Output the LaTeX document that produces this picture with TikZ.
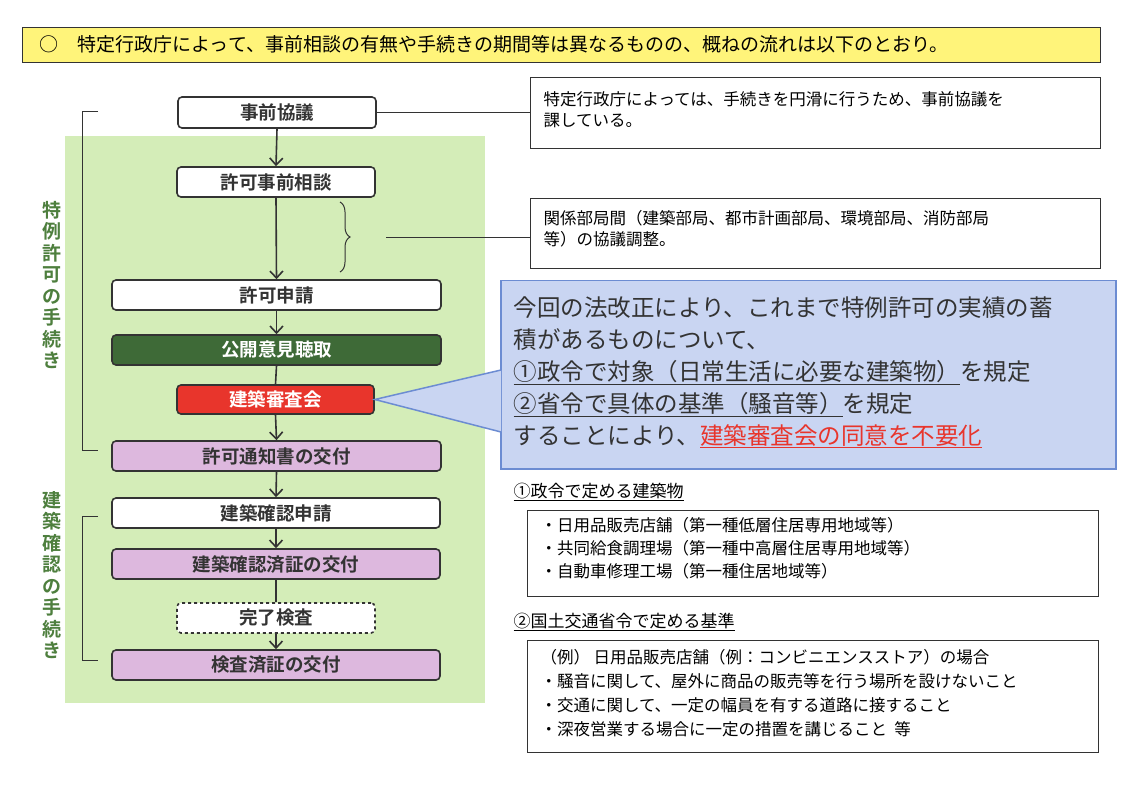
\documentclass[tikz,border=0pt]{standalone}
\usepackage{fontspec}
\setmainfont{Noto Sans CJK JP}
\newfontfamily\jpb{Noto Sans CJK JP Bold}
\usetikzlibrary{arrows.meta,decorations.pathreplacing}
\definecolor{yel}{HTML}{FFF47A}
\definecolor{bggreen}{HTML}{D4EDB8}
\definecolor{dkgreen}{HTML}{3E6A37}
\definecolor{lblgreen}{HTML}{4E7F3E}
\definecolor{redbox}{HTML}{E8352C}
\definecolor{pinkbox}{HTML}{DDB8DE}
\definecolor{callfill}{HTML}{C9D5F2}
\definecolor{callline}{HTML}{6C8CD2}
\definecolor{gry}{HTML}{333333}
\tikzset{
 flow/.style={draw=gry,line width=1.6pt,rounded corners=4pt,font=\jpb\fontsize{18.5}{18.5}\selectfont,text=gry,inner sep=0pt},
 note/.style={draw=gry,line width=0.7pt,inner sep=0pt},
 arr/.style={draw=gry,line width=1.6pt,-{Straight Barb[length=7pt,width=13pt]}},
 lbl/.style={font=\jpb\fontsize{19}{21.5}\selectfont,text=lblgreen,align=center},
 ntxt/.style={font=\fontsize{16.5}{21}\selectfont,align=left,anchor=north west}
}
\begin{document}
\begin{tikzpicture}[x=1pt,y=-1pt]
\useasboundingbox (0,0) rectangle (1148,786);
\fill[white] (0,0) rectangle (1148,786);
% header
\node[draw=gry,line width=0.8pt,fill=yel,minimum width=1078pt,minimum height=35pt,anchor=north west,inner sep=0pt] (hdr) at (22,27) {};
\node[anchor=west,font=\fontsize{19}{19}\selectfont] (hdrt) at (36,44.5) {○\quad 特定行政庁によって、事前相談の有無や手続きの期間等は異なるものの、概ねの流れは以下のとおり。};
% green background
\fill[bggreen] (65,136) rectangle (485,703);
% flow boxes
\node[flow,fill=white,minimum width=198pt,minimum height=31pt] (a) at (277,112.5) {事前協議};
\node[flow,fill=white,minimum width=198pt,minimum height=30pt] (b) at (276,182) {許可事前相談};
\node[flow,fill=white,minimum width=329pt,minimum height=30pt] (c) at (276.5,295) {許可申請};
\node[flow,fill=dkgreen,text=white,minimum width=329pt,minimum height=30pt] (d) at (276.5,350) {公開意見聴取};
\node[flow,fill=redbox,text=white,minimum width=197pt,minimum height=29pt] (e) at (275.5,399.5) {建築審査会};
\node[flow,fill=pinkbox,minimum width=329pt,minimum height=30pt] (f) at (276.5,456) {許可通知書の交付};
\node[flow,fill=white,minimum width=328pt,minimum height=30pt] (g) at (276,513) {建築確認申請};
\node[flow,fill=pinkbox,minimum width=328pt,minimum height=30pt] (h) at (276,564) {建築確認済証の交付};
\node[flow,fill=white,dashed,minimum width=198pt,minimum height=30pt] (i) at (276,618) {完了検査};
\node[flow,fill=pinkbox,minimum width=328pt,minimum height=30pt] (j) at (276,665) {検査済証の交付};
% arrows
\draw[arr] (a.south) -- (b.north);
\draw[arr] (b.south) -- (c.north);
\draw[arr] (c.south) -- (d.north);
\draw[gry,line width=1.6pt] (d.south) -- (e.north);
\draw[arr] (e.south) -- (f.north);
\draw[arr] (f.south) -- (g.north);
\draw[arr] (g.south) -- (h.north);
\draw[gry,line width=1.6pt] (h.south) -- (i.north);
\draw[arr] (i.south) -- (j.north);
% brackets
\draw[gry,line width=1pt] (98,112) -- (82,112) -- (82,450) -- (98,450);
\draw[gry,line width=1pt] (98,516) -- (82,516) -- (82,660) -- (98,660);
\node[lbl] (l1) at (52,285) {特\\例\\許\\可\\の\\手\\続\\き};
\node[lbl] (l2) at (52,575) {建\\築\\確\\認\\の\\手\\続\\き};
% right notes
\node[note,minimum width=570pt,minimum height=71pt,anchor=north west] (n1) at (530,77) {};
\node[ntxt] (n1t) at (540,88) {特定行政庁によっては、手続きを円滑に行うため、事前協議を\\課している。};
\draw[gry,line width=0.7pt] (a.east) -- (n1.west |- a.east);
\node[note,minimum width=570pt,minimum height=70pt,anchor=north west] (n2) at (530,198) {};
\node[ntxt] (n2t) at (540,207) {関係部局間（建築部局、都市計画部局、環境部局、消防部局\\等）の協議調整。};
\draw[gry,line width=1pt,decorate,decoration={brace,amplitude=10pt}] (340,202) -- (340,272);
\coordinate (bt) at (360,237);
\draw[gry,line width=0.7pt] (386,237) -- (n2.west |- bt);
% callout
\node[draw=callline,line width=1.5pt,fill=callfill,minimum width=615pt,minimum height=188pt,anchor=north west,inner sep=0pt] (cb) at (500,280) {};
\fill[callfill] (e.east) -- (501,370) -- (501,432) -- cycle;
\draw[callline,line width=1.5pt] (501,370) -- (e.east) -- (501,432);
\node[anchor=north west,align=left,font=\fontsize{23.5}{32}\selectfont,text=gry] (ct) at (510,293)
 {今回の法改正により、これまで特例許可の実績の蓄\\積があるものについて、\\\underline{①政令で対象（日常生活に必要な建築物）}を規定\\\underline{②省令で具体の基準（騒音等）}を規定\\することにより、\textcolor{redbox}{\underline{建築審査会の同意を不要化}}};
% lower notes
\node[anchor=west,font=\fontsize{17}{17}\selectfont] (h3) at (510,492) {\underline{①政令で定める建築物}};
\node[note,minimum width=571pt,minimum height=86pt,anchor=north west] (n3) at (527,510) {};
\node[ntxt,font=\fontsize{16.5}{23}\selectfont] (n3t) at (537,514) {・日用品販売店舗（第一種低層住居専用地域等）\\・共同給食調理場（第一種中高層住居専用地域等）\\・自動車修理工場（第一種住居地域等）};
\node[anchor=west,font=\fontsize{17}{17}\selectfont] (h4) at (510,622) {\underline{②国土交通省令で定める基準}};
\node[note,minimum width=571pt,minimum height=112pt,anchor=north west] (n4) at (527,640) {};
\node[ntxt,font=\fontsize{16.5}{24}\selectfont] (n4t) at (537,646) {（例）\ 日用品販売店舗（例：コンビニエンスストア）の場合\\・騒音に関して、屋外に商品の販売等を行う場所を設けないこと\\・交通に関して、一定の幅員を有する道路に接すること\\・深夜営業する場合に一定の措置を講じること\ \ 等};
\end{tikzpicture}
\end{document}
